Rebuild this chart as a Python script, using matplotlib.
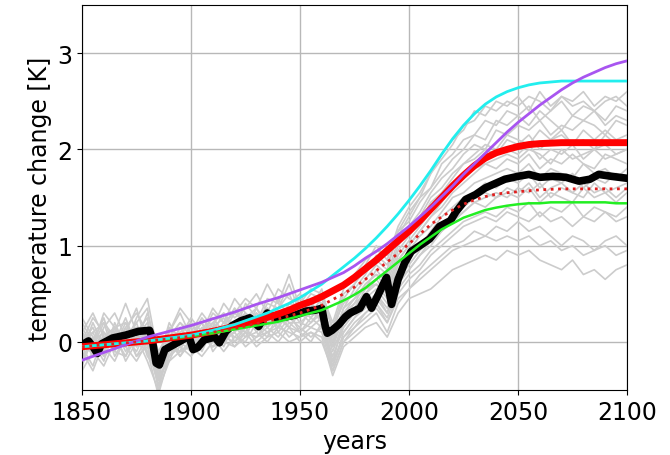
import matplotlib
matplotlib.use('agg')
import matplotlib.pyplot as plt

# smooth model curves, read every 5 years 1850..2100
curve_years = list(range(1850, 2101, 5))
red_mean = [-0.05, -0.04, -0.03, -0.02, -0.01, 0.0, 0.01, 0.025, 0.04, 0.055,
            0.07, 0.09, 0.11, 0.135, 0.16, 0.19, 0.22, 0.255, 0.29, 0.33,
            0.38, 0.42, 0.47, 0.53, 0.59, 0.67, 0.76, 0.85, 0.95, 1.05,
            1.15, 1.26, 1.38, 1.50, 1.62, 1.73, 1.83, 1.91, 1.965, 2.00,
            2.03, 2.05, 2.06, 2.065, 2.07, 2.07, 2.07, 2.07, 2.07, 2.07, 2.07]
red_dotted = [-0.05, -0.04, -0.03, -0.02, -0.01, 0.0, 0.01, 0.02, 0.03, 0.045,
              0.06, 0.08, 0.10, 0.12, 0.14, 0.165, 0.19, 0.215, 0.24, 0.27,
              0.30, 0.34, 0.38, 0.44, 0.50, 0.57, 0.65, 0.74, 0.83, 0.92,
              1.02, 1.12, 1.22, 1.30, 1.37, 1.43, 1.475, 1.51, 1.535, 1.55,
              1.56, 1.57, 1.58, 1.585, 1.59, 1.59, 1.59, 1.59, 1.59, 1.59, 1.59]
cyan_curve = [-0.05, -0.04, -0.03, -0.02, -0.01, 0.0, 0.01, 0.025, 0.04, 0.055,
              0.07, 0.095, 0.12, 0.15, 0.18, 0.22, 0.26, 0.30, 0.35, 0.40,
              0.46, 0.53, 0.60, 0.69, 0.78, 0.87, 0.97, 1.08, 1.20, 1.33,
              1.47, 1.62, 1.78, 1.95, 2.11, 2.25, 2.37, 2.47, 2.545, 2.60,
              2.64, 2.67, 2.69, 2.70, 2.71, 2.71, 2.71, 2.71, 2.71, 2.71, 2.71]
purple_curve = [-0.19, -0.15, -0.11, -0.07, -0.03, 0.01, 0.05, 0.08, 0.11, 0.14,
                0.17, 0.205, 0.24, 0.275, 0.31, 0.35, 0.39, 0.425, 0.46, 0.50,
                0.54, 0.58, 0.62, 0.67, 0.72, 0.79, 0.87, 0.94, 1.02, 1.11,
                1.20, 1.30, 1.40, 1.51, 1.62, 1.74, 1.85, 1.96, 2.07, 2.18,
                2.28, 2.37, 2.46, 2.54, 2.62, 2.69, 2.75, 2.80, 2.85, 2.89, 2.92]
green_curve = [-0.05, -0.04, -0.03, -0.02, -0.01, 0.0, 0.01, 0.02, 0.03, 0.045,
               0.06, 0.075, 0.09, 0.11, 0.13, 0.15, 0.17, 0.19, 0.21, 0.24,
               0.27, 0.30, 0.33, 0.38, 0.43, 0.49, 0.56, 0.65, 0.74, 0.83,
               0.92, 1.01, 1.09, 1.17, 1.23, 1.29, 1.33, 1.37, 1.395, 1.415,
               1.43, 1.44, 1.44, 1.45, 1.45, 1.45, 1.45, 1.45, 1.45, 1.44, 1.44]

# thick black run
black_years = [1850, 1853, 1855, 1857, 1859, 1864, 1870, 1876, 1881, 1882, 1884, 1885.5, 1888,
               1892, 1896, 1899, 1901, 1903, 1906, 1911, 1913, 1916, 1919, 1923, 1927, 1931,
               1933, 1935, 1939, 1943.6, 1948, 1952.7, 1957, 1960, 1961.6, 1962.5, 1964.7,
               1967.8, 1970.8, 1973, 1977.5, 1980.5, 1982.8, 1985.9, 1989.7, 1992, 1995, 1998,
               2001, 2005, 2009.5, 2014, 2019, 2021.5, 2026, 2030.5, 2035, 2040, 2044, 2050,
               2055, 2060, 2066, 2072, 2078, 2083, 2087, 2093, 2100]
black_vals = [-0.03, 0.01, -0.05, -0.12, -0.02, 0.04, 0.07, 0.11, 0.12, 0.05, -0.22, -0.24, -0.08,
              -0.03, 0.02, 0.06, -0.08, -0.06, 0.02, 0.05, -0.01, 0.11, 0.17, 0.22, 0.25, 0.16,
              0.23, 0.30, 0.25, 0.26, 0.28, 0.32, 0.33, 0.35, 0.16, 0.09, 0.12,
              0.18, 0.26, 0.30, 0.35, 0.47, 0.35, 0.49, 0.67, 0.39, 0.65, 0.82,
              0.94, 1.00, 1.07, 1.20, 1.26, 1.35, 1.48, 1.53, 1.60, 1.65, 1.69, 1.72,
              1.74, 1.71, 1.72, 1.71, 1.67, 1.69, 1.74, 1.72, 1.70]

# grey ensemble members, every 5 years 1850..2100
gray_years = list(range(1850, 2101, 5))
g1 = [0.05, -0.15, 0.15, 0.30, 0.05, 0.20, 0.35, -0.30, 0.05, 0.20,
      0.10, 0.30, 0.15, 0.40, 0.25, 0.35, 0.50, 0.30, 0.55, 0.45,
      0.40, 0.55, 0.50, 0.20, 0.55, 0.70, 0.85, 0.95, 0.90, 1.15,
      1.35, 1.50, 1.75, 1.95, 2.10, 2.20, 2.40, 2.35, 2.50, 2.45,
      2.55, 2.40, 2.60, 2.45, 2.55, 2.50, 2.60, 2.45, 2.55, 2.50, 2.60]
g2 = [-0.10, 0.20, -0.05, 0.10, 0.40, 0.10, 0.00, -0.45, -0.10, 0.15,
      -0.05, 0.10, 0.25, 0.10, 0.30, 0.20, 0.15, 0.40, 0.35, 0.60,
      0.30, 0.45, 0.40, 0.05, 0.35, 0.55, 0.70, 0.90, 0.80, 1.10,
      1.30, 1.50, 1.60, 1.85, 1.95, 2.10, 2.15, 2.30, 2.25, 2.40,
      2.35, 2.45, 2.30, 2.40, 2.50, 2.35, 2.45, 2.40, 2.30, 2.45, 2.40]
g3 = [0.20, 0.00, 0.25, -0.10, 0.15, 0.30, 0.10, -0.20, 0.20, 0.00,
      0.15, -0.05, 0.20, 0.30, 0.10, 0.40, 0.25, 0.35, 0.20, 0.40,
      0.50, 0.30, 0.45, 0.15, 0.40, 0.50, 0.65, 0.80, 0.70, 1.05,
      1.20, 1.35, 1.55, 1.70, 1.80, 1.95, 2.05, 2.00, 2.20, 2.15,
      2.25, 2.20, 2.30, 2.15, 2.25, 2.20, 2.30, 2.25, 2.15, 2.30, 2.25]
g4 = [-0.25, 0.05, -0.15, 0.20, -0.05, 0.10, 0.25, -0.50, -0.20, 0.05,
      0.00, 0.15, 0.05, 0.20, 0.15, 0.05, 0.30, 0.20, 0.45, 0.25,
      0.30, 0.20, 0.35, -0.05, 0.30, 0.45, 0.55, 0.75, 0.60, 0.95,
      1.10, 1.25, 1.45, 1.55, 1.70, 1.85, 1.90, 2.00, 1.95, 2.10,
      2.05, 2.15, 2.00, 2.10, 2.20, 2.05, 2.10, 2.00, 2.15, 2.05, 2.10]
g5 = [0.10, 0.30, 0.05, 0.15, -0.10, 0.05, 0.20, -0.15, 0.10, 0.30,
      0.05, 0.20, 0.00, 0.15, 0.35, 0.20, 0.30, 0.15, 0.35, 0.50,
      0.25, 0.40, 0.30, 0.10, 0.25, 0.40, 0.60, 0.70, 0.55, 0.90,
      1.05, 1.20, 1.35, 1.50, 1.65, 1.75, 1.85, 1.90, 1.95, 2.00,
      1.95, 2.05, 1.90, 2.00, 1.95, 2.05, 1.90, 2.00, 2.05, 1.95, 2.00]
g6 = [-0.05, -0.25, 0.10, 0.00, 0.25, -0.05, 0.10, -0.35, 0.00, -0.10,
      0.20, 0.05, 0.10, -0.05, 0.20, 0.30, 0.10, 0.25, 0.30, 0.35,
      0.20, 0.30, 0.25, -0.10, 0.20, 0.35, 0.50, 0.65, 0.50, 0.85,
      1.00, 1.15, 1.30, 1.40, 1.55, 1.65, 1.75, 1.85, 1.80, 1.90,
      1.85, 1.95, 1.80, 1.90, 1.85, 1.95, 1.85, 1.80, 1.95, 1.90, 1.85]
g7 = [0.00, 0.15, -0.10, 0.05, 0.10, 0.35, -0.05, -0.25, -0.05, 0.10,
      -0.10, 0.10, 0.20, 0.05, 0.10, 0.25, 0.35, 0.15, 0.25, 0.30,
      0.35, 0.25, 0.40, 0.00, 0.30, 0.40, 0.50, 0.60, 0.45, 0.80,
      0.95, 1.10, 1.20, 1.35, 1.50, 1.55, 1.65, 1.70, 1.75, 1.80,
      1.75, 1.85, 1.70, 1.80, 1.75, 1.70, 1.85, 1.75, 1.80, 1.70, 1.80]
g8 = [0.15, -0.05, 0.20, 0.05, -0.15, 0.15, 0.05, -0.40, 0.15, -0.05,
      0.10, -0.10, 0.15, 0.25, 0.00, 0.15, 0.20, 0.35, 0.10, 0.25,
      0.15, 0.35, 0.20, -0.15, 0.15, 0.30, 0.45, 0.55, 0.40, 0.70,
      0.85, 1.00, 1.15, 1.30, 1.40, 1.50, 1.55, 1.65, 1.60, 1.70,
      1.65, 1.75, 1.60, 1.70, 1.65, 1.75, 1.60, 1.70, 1.65, 1.75, 1.70]
g9 = [-0.20, 0.05, -0.05, -0.20, 0.05, -0.10, 0.15, -0.20, -0.05, 0.15,
      0.00, 0.10, -0.05, 0.10, 0.20, 0.10, 0.05, 0.20, 0.25, 0.15,
      0.10, 0.20, 0.30, -0.05, 0.10, 0.25, 0.35, 0.50, 0.35, 0.65,
      0.75, 0.90, 1.05, 1.15, 1.25, 1.35, 1.45, 1.40, 1.50, 1.55,
      1.50, 1.60, 1.45, 1.55, 1.50, 1.45, 1.60, 1.50, 1.55, 1.45, 1.55]
g10 = [0.05, -0.10, 0.00, 0.10, -0.20, 0.00, -0.10, -0.55, -0.15, -0.05,
       -0.15, 0.00, 0.05, -0.10, 0.05, 0.15, 0.00, 0.10, 0.20, 0.05,
       0.15, 0.05, 0.15, -0.20, 0.05, 0.20, 0.30, 0.40, 0.25, 0.55,
       0.70, 0.80, 0.95, 1.05, 1.15, 1.25, 1.30, 1.35, 1.30, 1.40,
       1.35, 1.45, 1.30, 1.40, 1.35, 1.45, 1.30, 1.40, 1.35, 1.30, 1.40]
g11 = [-0.30, -0.10, -0.25, 0.00, -0.05, -0.20, 0.00, -0.35, -0.20, -0.10,
       -0.05, -0.15, 0.00, 0.10, -0.05, 0.05, 0.10, 0.00, 0.15, 0.10,
       0.05, 0.15, 0.10, -0.30, 0.00, 0.15, 0.25, 0.35, 0.20, 0.45,
       0.55, 0.70, 0.80, 0.90, 1.00, 1.05, 1.15, 1.10, 1.20, 1.15,
       1.25, 1.15, 1.20, 1.10, 1.00, 1.10, 1.05, 0.95, 1.05, 1.10, 1.00]
g12 = [0.10, -0.15, 0.05, -0.05, 0.10, -0.15, -0.05, -0.45, -0.10, 0.00,
       -0.10, 0.05, -0.05, 0.00, 0.10, -0.05, 0.05, 0.10, 0.00, 0.15,
       0.00, 0.10, 0.05, -0.35, -0.05, 0.05, 0.15, 0.20, 0.05, 0.30,
       0.45, 0.50, 0.55, 0.65, 0.75, 0.80, 0.85, 0.90, 0.85, 0.95,
       0.90, 0.95, 0.85, 0.80, 0.75, 0.85, 0.70, 0.75, 0.65, 0.75, 0.80]
g13 = [0.00, 0.25, 0.10, -0.05, 0.20, 0.00, 0.30, -0.10, 0.10, 0.35,
       0.20, 0.05, 0.30, 0.20, 0.45, 0.30, 0.20, 0.45, 0.40, 0.30,
       0.45, 0.35, 0.55, 0.10, 0.45, 0.60, 0.75, 0.85, 0.75, 1.15,
       1.25, 1.45, 1.60, 1.75, 1.90, 2.00, 2.15, 2.10, 2.30, 2.25,
       2.35, 2.25, 2.40, 2.30, 2.20, 2.35, 2.30, 2.40, 2.25, 2.35, 2.30]
g14 = [-0.15, 0.00, -0.20, 0.15, 0.00, 0.20, -0.15, -0.30, 0.05, -0.15,
       0.05, 0.20, -0.10, 0.05, 0.10, 0.25, 0.15, 0.05, 0.30, 0.20,
       0.20, 0.15, 0.25, -0.20, 0.20, 0.30, 0.40, 0.50, 0.30, 0.65,
       0.80, 0.95, 1.05, 1.20, 1.30, 1.40, 1.50, 1.55, 1.50, 1.60,
       1.55, 1.65, 1.50, 1.60, 1.65, 1.55, 1.50, 1.65, 1.55, 1.60, 1.65]
g15 = [0.10, -0.05, 0.30, 0.15, -0.05, 0.25, 0.45, -0.15, 0.15, 0.05,
       0.25, 0.10, 0.35, 0.20, 0.30, 0.45, 0.35, 0.60, 0.40, 0.70,
       0.35, 0.50, 0.45, 0.15, 0.50, 0.60, 0.80, 1.00, 0.85, 1.20,
       1.40, 1.55, 1.75, 1.90, 2.05, 2.25, 2.30, 2.45, 2.40, 2.50,
       2.45, 2.55, 2.50, 2.40, 2.55, 2.45, 2.50, 2.40, 2.50, 2.55, 2.45]
g16 = [-0.05, 0.10, 0.20, -0.15, 0.05, 0.15, 0.00, -0.35, 0.05, 0.20,
       0.05, 0.25, 0.10, 0.15, 0.35, 0.15, 0.25, 0.30, 0.15, 0.40,
       0.35, 0.25, 0.40, 0.00, 0.35, 0.45, 0.60, 0.70, 0.65, 1.00,
       1.15, 1.30, 1.50, 1.60, 1.75, 1.85, 1.95, 2.05, 2.00, 2.15,
       2.10, 2.05, 2.20, 2.10, 2.15, 2.05, 2.20, 2.10, 2.20, 2.10, 2.15]
g17 = [0.25, 0.05, -0.10, 0.15, 0.20, -0.05, 0.15, -0.25, -0.10, 0.10,
       0.20, 0.00, 0.10, 0.30, 0.15, 0.10, 0.35, 0.20, 0.30, 0.15,
       0.30, 0.40, 0.20, -0.05, 0.25, 0.35, 0.55, 0.60, 0.50, 0.85,
       1.00, 1.15, 1.30, 1.45, 1.60, 1.70, 1.80, 1.85, 1.90, 1.95,
       1.90, 2.00, 1.95, 1.85, 2.00, 1.90, 1.95, 2.00, 1.90, 1.95, 2.00]
g18 = [-0.10, -0.30, 0.00, -0.05, 0.15, -0.15, 0.05, -0.40, -0.15, 0.05,
       -0.05, 0.10, 0.00, 0.15, 0.05, 0.00, 0.20, 0.10, 0.15, 0.30,
       0.10, 0.25, 0.15, -0.25, 0.10, 0.25, 0.40, 0.45, 0.30, 0.60,
       0.75, 0.90, 1.00, 1.15, 1.25, 1.35, 1.45, 1.50, 1.55, 1.50,
       1.60, 1.55, 1.65, 1.50, 1.60, 1.55, 1.65, 1.55, 1.60, 1.50, 1.60]
g19 = [0.00, 0.10, -0.15, -0.05, 0.05, 0.10, -0.10, -0.30, 0.00, -0.15,
       0.00, -0.05, 0.10, 0.00, -0.05, 0.10, 0.05, 0.15, 0.05, 0.20,
       0.10, 0.00, 0.20, -0.25, 0.05, 0.15, 0.30, 0.40, 0.20, 0.50,
       0.65, 0.75, 0.90, 1.00, 1.10, 1.20, 1.25, 1.30, 1.25, 1.35,
       1.30, 1.25, 1.35, 1.25, 1.30, 1.20, 1.30, 1.25, 1.35, 1.25, 1.30]
g20 = [-0.20, 0.00, 0.10, -0.10, -0.15, 0.05, -0.20, -0.50, -0.05, -0.10,
       0.00, 0.05, -0.05, 0.05, 0.00, 0.10, -0.05, 0.05, 0.10, 0.00,
       0.05, 0.10, 0.00, -0.30, 0.00, 0.10, 0.20, 0.30, 0.10, 0.40,
       0.55, 0.65, 0.75, 0.85, 0.95, 1.00, 1.05, 1.10, 1.05, 1.10,
       1.05, 1.10, 1.00, 1.05, 0.95, 1.00, 0.90, 0.95, 1.00, 0.90, 0.95]
gray_members = [g1, g2, g3, g4, g5, g6, g7, g8, g9, g10,
                g11, g12, g13, g14, g15, g16, g17, g18, g19, g20]

plt.rcParams['font.size'] = 17

fig = plt.figure(figsize=(6.7, 4.56), dpi=100)
ax = fig.add_axes([0.1224, 0.1425, 0.8134, 0.8443])

for member in gray_members:
    ax.plot(gray_years, member, color='#cccccc', lw=1.2, zorder=1)

ax.plot(black_years, black_vals, color='black', lw=5.5, zorder=3, solid_joinstyle='round')
ax.plot(curve_years, red_mean, color='red', lw=5, zorder=4)
ax.plot(curve_years, green_curve, color='#22ee22', lw=1.8, zorder=5)
ax.plot(curve_years, cyan_curve, color='#22eeee', lw=2, zorder=5)
ax.plot(curve_years, purple_curve, color='#a855f0', lw=2, zorder=6)
ax.plot(curve_years, red_dotted, color='#e02020', lw=2, ls=':', zorder=7)

ax.set_xlim(1850, 2100)
ax.set_ylim(-0.5, 3.5)
ax.set_xticks([1850, 1900, 1950, 2000, 2050, 2100])
ax.set_yticks([0, 1, 2, 3])
ax.grid(True, color='#b8b8b8', lw=1.0)
ax.set_axisbelow(True)
ax.set_xlabel('years')
ax.set_ylabel('temperature change [K]')

plt.savefig('out.png', dpi=100)
